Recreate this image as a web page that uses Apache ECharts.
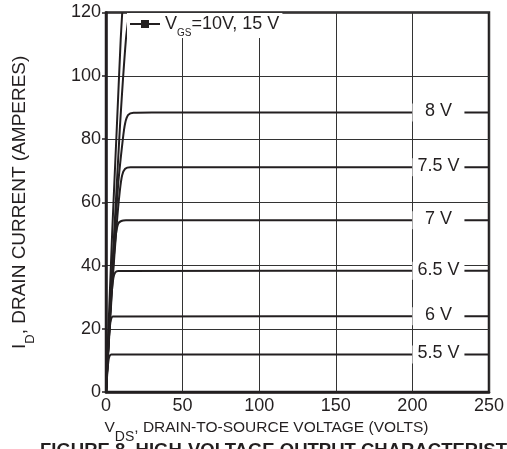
<!DOCTYPE html>
<html>
<head>
<meta charset="utf-8">
<script src="https://cdn.jsdelivr.net/npm/echarts/dist/echarts.min.js"></script>
<style>
  html, body { margin: 0; padding: 0; background: #fff; }
  #chart { width: 507px; height: 449px; }
</style>
</head>
<body>
<div id="chart"></div>
<script>
  // curves: [V_DS (volts), I_D (amperes)]
  const vgs15 = [[0, 0], [4, 50], [7, 83], [9.6, 111.5], [10.6, 120]]
  const vgs10 = [[0, 0], [5, 47], [9, 83], [13, 111.5], [15.2, 120]]
  const vgs8 = [[0, 0], [4, 38], [8, 66], [11, 80], [12.5, 85], [14.5, 87.6], [18, 88.3], [30, 88.4], [250, 88.4]]
  const vgs75 = [[0, 0], [4, 33], [7, 53], [9, 63.5], [10.5, 68.5], [12.5, 70.6], [16, 71.1], [250, 71.1]]
  const vgs7 = [[0, 0], [3, 28], [5, 42], [6.5, 50], [8, 53.3], [10, 54.1], [13, 54.3], [250, 54.3]]
  const vgs65 = [[0, 0], [2, 18], [3.5, 30], [4.8, 36], [6, 37.8], [8, 38.3], [250, 38.4]]
  const vgs6 = [[0, 0], [1.5, 14], [2.5, 20.5], [3.3, 23], [4.5, 23.9], [250, 24]]
  const vgs55 = [[0, 0], [1, 7], [1.7, 10.3], [2.4, 11.5], [3.5, 11.9], [250, 11.9]]

  const curveLabels = ['8 V', '7.5 V', '7 V', '6.5 V', '6 V', '5.5 V']
  const labelAtVds = 217 // where the curve labels sit on the x axis

  const ink = '#231f20'
  const font = 'Liberation Sans, Arial, Helvetica, sans-serif'

  const myChart = echarts.init(document.getElementById('chart'))

  // line series for one gate voltage
  function curve(name, data) {
    return {
      name: name,
      type: 'line',
      data: data,
      symbol: 'rect',
      showSymbol: false,
      smooth: 0.25,
      lineStyle: { color: ink, width: 2 },
      itemStyle: { color: ink },
      silent: true
    }
  }

  // white box with the V_GS value, cutting the curve near V_DS = 217
  function withLabel(s, text) {
    const level = s.data[s.data.length - 1][1]
    s.markPoint = {
      symbol: 'rect',
      symbolSize: [52, 18],
      itemStyle: { color: '#fff' },
      label: { show: true, formatter: '{b}', color: ink, fontSize: 18, fontFamily: font, offset: [0, -1] },
      data: [{ name: text, coord: [labelAtVds, level] }]
    }
    return s
  }

  const option = {
    animation: false,
    textStyle: { fontFamily: font },
    title: {
      text: 'FIGURE 8. HIGH-VOLTAGE OUTPUT CHARACTERISTICS',
      left: 40,
      top: 441,
      padding: 0,
      textStyle: { fontSize: 18.5, fontWeight: 'bold', color: ink, fontFamily: font }
    },
    grid: {
      left: 106, right: 17, top: 12.5, bottom: 53.5,
      show: true, borderColor: ink, borderWidth: 2.5
    },
    legend: {
      data: ['VGS'],
      left: 127,
      top: 13,
      padding: [2, 3, 0, 2],
      itemWidth: 30,
      itemHeight: 10,
      backgroundColor: '#fff',
      formatter: () => '{a|V}{s|GS}{a|=10V, 15 V}',
      textStyle: {
        rich: {
          a: { fontSize: 18, lineHeight: 28, color: ink, fontFamily: font },
          s: { fontSize: 10, verticalAlign: 'bottom', color: ink, fontFamily: font }
        }
      }
    },
    xAxis: {
      type: 'value',
      min: 0, max: 250, interval: 50,
      name: '{a|V}{s|DS}{a|, DRAIN-TO-SOURCE VOLTAGE (VOLTS)}',
      nameLocation: 'middle',
      nameGap: 15,
      nameTextStyle: {
        padding: [0, 62, 0, 0],
        rich: {
          a: { fontSize: 15.5, lineHeight: 32, color: ink, fontFamily: font },
          s: { fontSize: 14, verticalAlign: 'bottom', color: ink, fontFamily: font }
        }
      },
      axisLine: { lineStyle: { color: ink, width: 2.5 } },
      axisTick: { show: false },
      axisLabel: { color: ink, fontSize: 18, margin: 5 },
      splitLine: { lineStyle: { color: '#333', width: 1 } }
    },
    yAxis: {
      type: 'value',
      min: 0, max: 120, interval: 20,
      name: '{a|I}{s|D}{a|, DRAIN CURRENT (AMPERES)}',
      nameLocation: 'middle',
      nameGap: 69,
      nameTextStyle: {
        rich: {
          a: { fontSize: 19, lineHeight: 34, color: ink, fontFamily: font },
          s: { fontSize: 13, verticalAlign: 'bottom', color: ink, fontFamily: font }
        }
      },
      axisLine: { show: true, lineStyle: { color: ink, width: 2.5 } },
      axisTick: { show: true, length: 4, lineStyle: { color: ink, width: 1.5 } },
      axisLabel: { color: ink, fontSize: 18, margin: 5 },
      splitLine: { lineStyle: { color: '#333', width: 1 } }
    },
    series: [
      curve('VGS', vgs15),
      curve('VGS', vgs10),
      withLabel(curve('8V', vgs8), curveLabels[0]),
      withLabel(curve('7.5V', vgs75), curveLabels[1]),
      withLabel(curve('7V', vgs7), curveLabels[2]),
      withLabel(curve('6.5V', vgs65), curveLabels[3]),
      withLabel(curve('6V', vgs6), curveLabels[4]),
      withLabel(curve('5.5V', vgs55), curveLabels[5])
    ]
  }

  option && myChart.setOption(option)
</script>
</body>
</html>
